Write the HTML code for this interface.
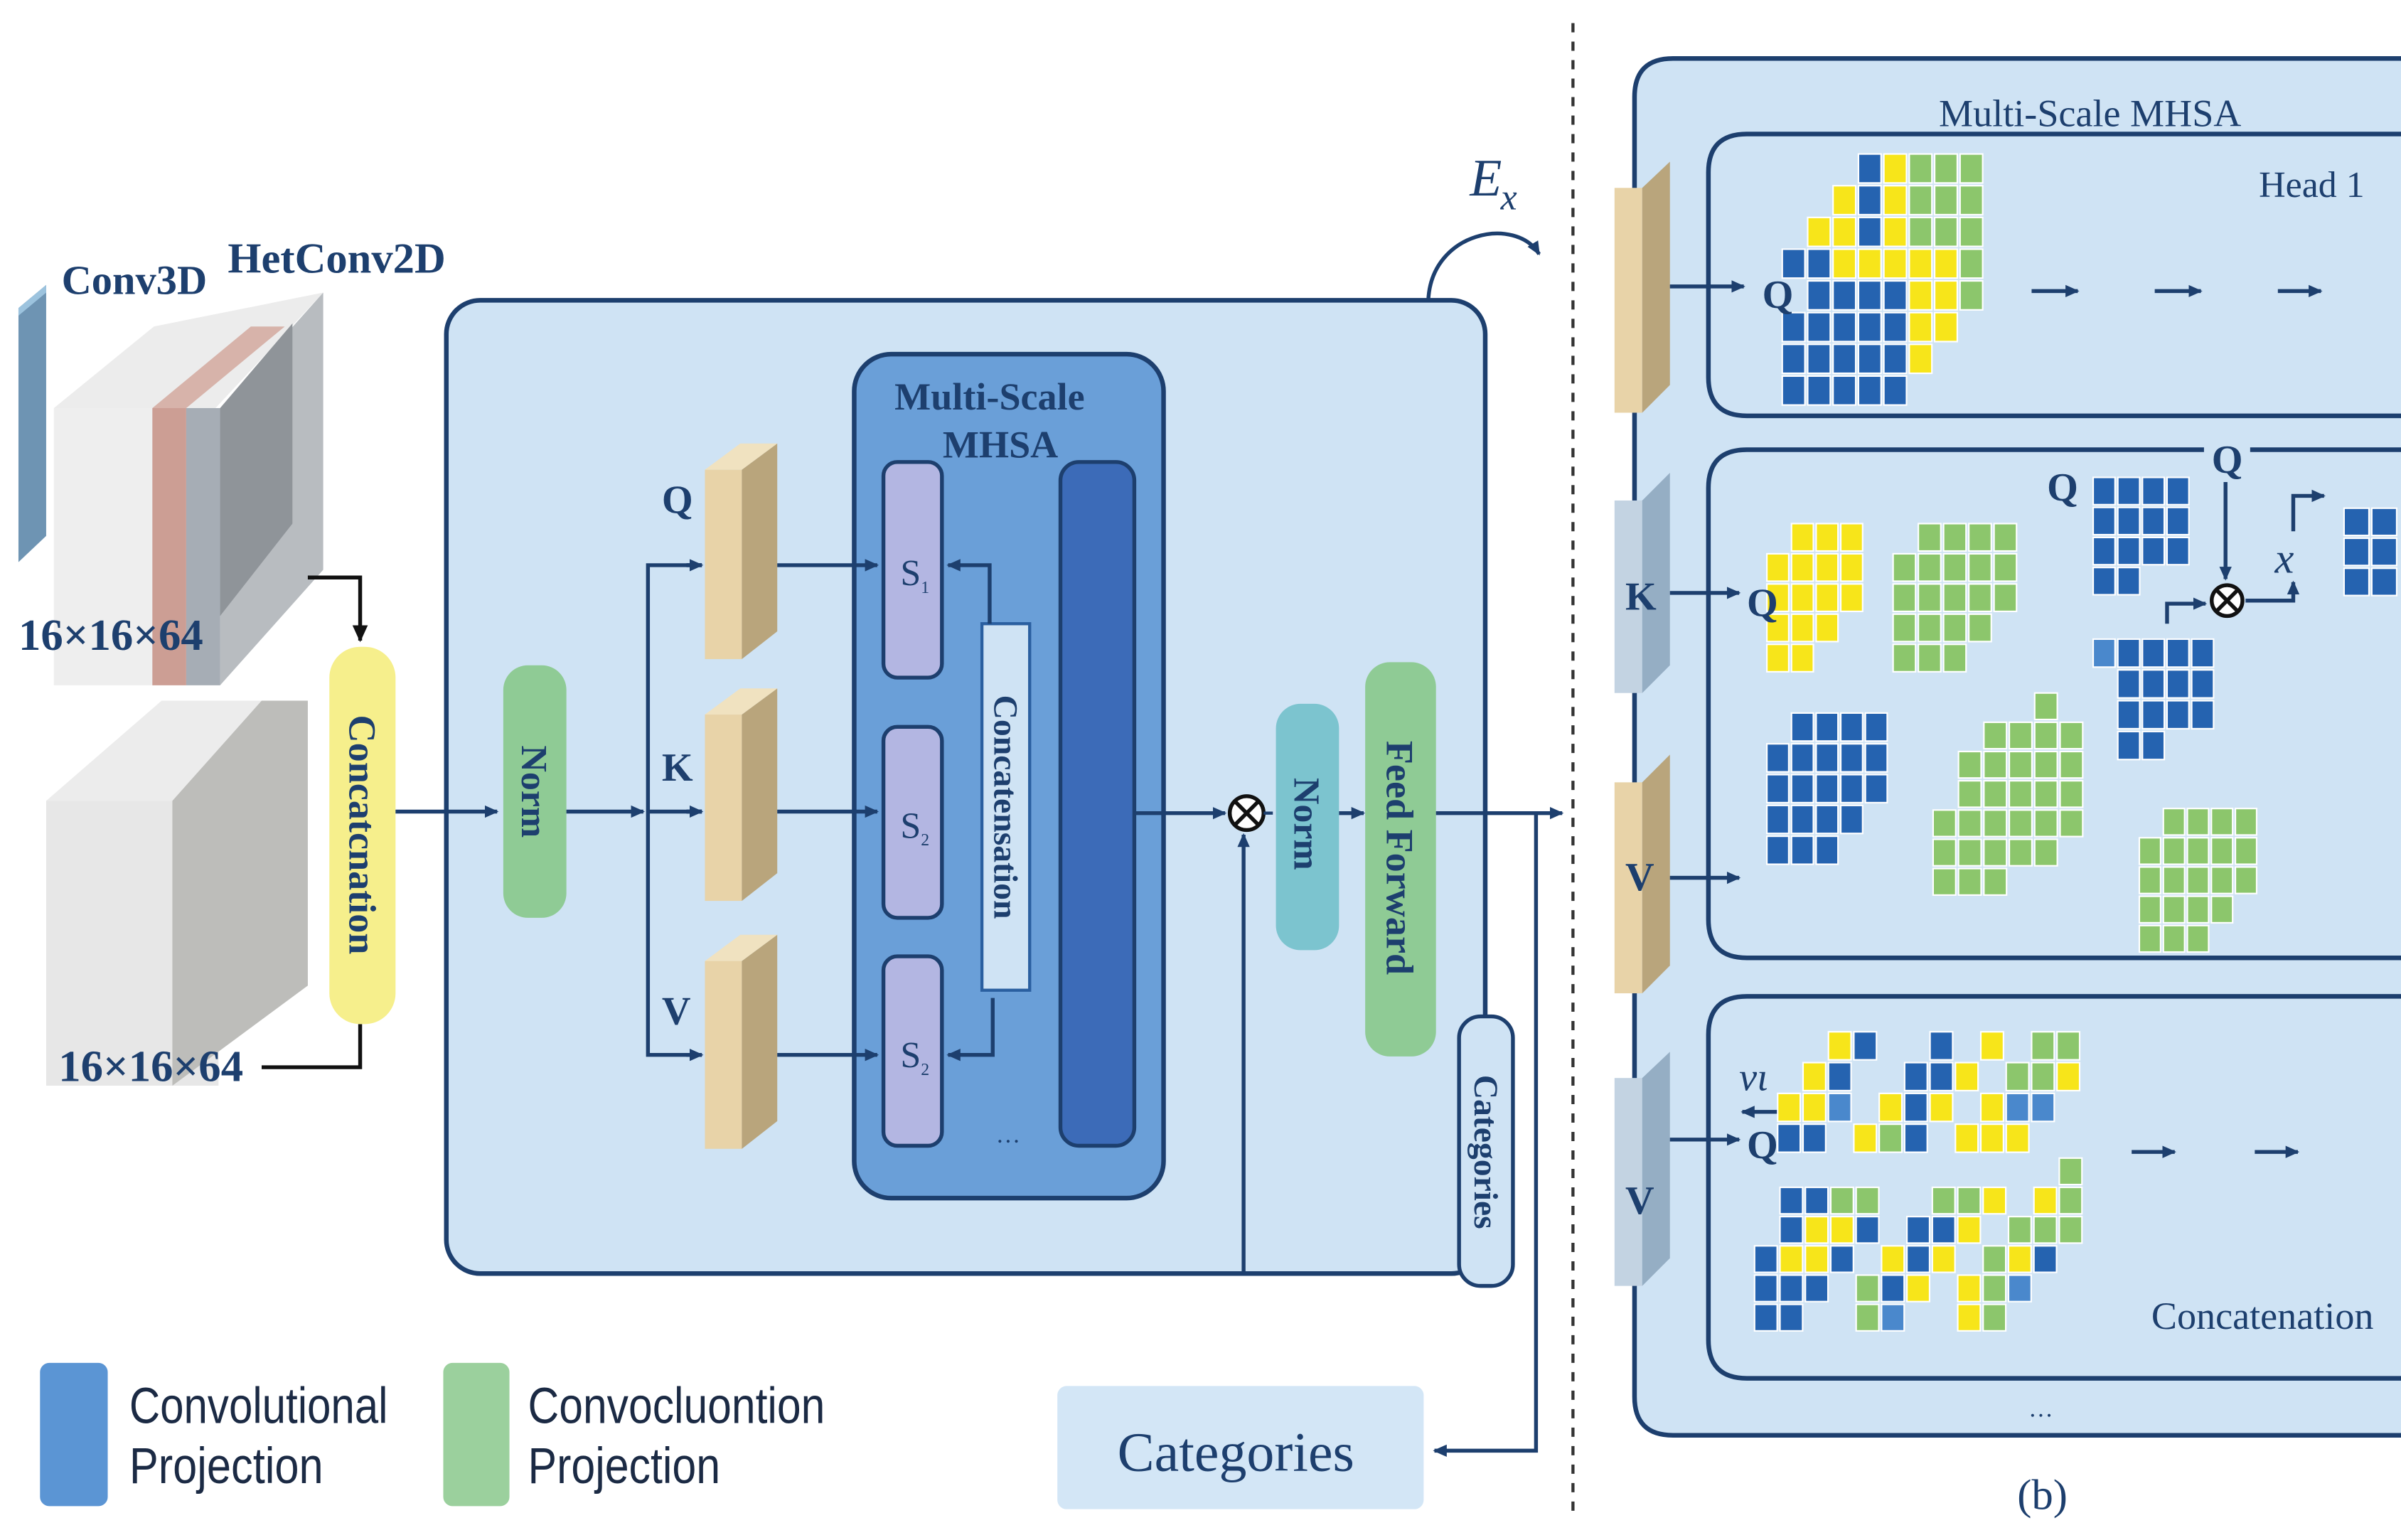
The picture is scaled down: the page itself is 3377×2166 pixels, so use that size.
<!DOCTYPE html>
<html><head><meta charset="utf-8"><style>
html,body{margin:0;padding:0;background:#fff}
svg{display:block}
.s{font-family:"Liberation Serif",serif;fill:#1d3f6e;font-weight:bold}
.n{font-family:"Liberation Serif",serif;fill:#1d3f6e}
.l{font-family:"Liberation Sans",sans-serif;fill:#1b2a44}
</style></head><body>
<svg id="svg" xmlns="http://www.w3.org/2000/svg" width="3377" height="2166" viewBox="0 0 1560 1000" preserveAspectRatio="none">
<defs>
<marker id="a" markerWidth="10" markerHeight="10" refX="8" refY="5" orient="auto" markerUnits="userSpaceOnUse"><path d="M0,1 L9,5 L0,9 Z" fill="#1d3f6e"/></marker>
<marker id="k" markerWidth="12" markerHeight="12" refX="10" refY="6" orient="auto" markerUnits="userSpaceOnUse"><path d="M0,1 L11,6 L0,11 Z" fill="#111"/></marker>
</defs>
<rect width="1560" height="1000" fill="#fff"/>

<!-- main box (drawn first) -->
<rect x="290" y="195" width="675" height="632" rx="22" fill="#cfe3f4" stroke="#1d3f6e" stroke-width="3"/>
<rect x="555" y="230" width="201" height="548" rx="24" fill="#6a9fd8" stroke="#1d3f6e" stroke-width="3"/>

<!-- left cubes -->
<polygon points="12,200 30,185 30,348 12,365" fill="#6e94b3"/>
<polygon points="12,200 30,185 30,190 12,205" fill="#9cc3de"/>
<polygon points="35,265 100,212 210,190 140,265" fill="#ececec"/>
<rect x="35" y="265" width="65" height="180" fill="#eeeeee"/>
<rect x="99" y="265" width="22" height="180" fill="#cc9e94"/>
<polygon points="99,265 163,212 185,212 121,265" fill="#d7b3aa"/>
<rect x="121" y="265" width="22" height="180" fill="#a6adb5"/>
<polygon points="143,265 210,190 210,370 143,445" fill="#b8bcc0"/>
<polygon points="143,265 190,210 190,340 143,400" fill="#8f9499"/>
<polygon points="30,520 105,455 200,455 140,520" fill="#ececec"/>
<rect x="30" y="520" width="112" height="185" fill="#e7e7e7"/>
<polygon points="112,520 170,455 200,455 200,640 112,705" fill="#bdbdba"/>
<text class="s" x="40" y="191" font-size="27" font-weight="normal">Conv3D</text>
<text class="s" x="148" y="177" font-size="28" font-weight="normal">HetConv2D</text>
<text class="s" x="12" y="422" font-size="29">16×16×64</text>
<text class="s" x="38" y="702" font-size="29">16×16×64</text>
<path d="M200,375 H234 V416" stroke="#111" stroke-width="2.5" fill="none" marker-end="url(#k)"/>
<path d="M170,693 H234 V665" stroke="#111" stroke-width="2.5" fill="none"/>
<rect x="214" y="420" width="43" height="245" rx="20" fill="#f6ef8c"/>
<text class="s" transform="translate(227,542) rotate(90)" text-anchor="middle" font-size="25" font-weight="normal">Concatcnation</text>
<line x1="257" y1="527" x2="323" y2="527" stroke="#1d3f6e" stroke-width="2.5" marker-end="url(#a)"/>

<rect x="327" y="432" width="41" height="164" rx="16" fill="#8fcb95"/>
<text class="s" transform="translate(339,514) rotate(90)" text-anchor="middle" font-size="24">Norm</text>
<line x1="368" y1="527" x2="418" y2="527" stroke="#1d3f6e" stroke-width="2.5" marker-end="url(#a)"/>
<path d="M456,367 H421 V685 H456 M421,527 H456" stroke="#1d3f6e" stroke-width="2.5" fill="none"/>
<path d="M446,367 l10,0 M446,527 l10,0 M446,685 l10,0" stroke="#1d3f6e" stroke-width="2.5" marker-end="url(#a)"/>
<line x1="446" y1="367" x2="456" y2="367" stroke="#1d3f6e" stroke-width="2.5" marker-end="url(#a)"/>
<line x1="446" y1="527" x2="456" y2="527" stroke="#1d3f6e" stroke-width="2.5" marker-end="url(#a)"/>
<line x1="446" y1="685" x2="456" y2="685" stroke="#1d3f6e" stroke-width="2.5" marker-end="url(#a)"/>
<text class="s" x="430" y="333" font-size="26" font-weight="normal">Q</text>
<text class="s" x="430" y="507" font-size="26" font-weight="normal">K</text>
<text class="s" x="430" y="665" font-size="26" font-weight="normal">V</text>
<rect x="458" y="305" width="24" height="123" fill="#e8d3a8"/><polygon points="482,305 505,288 505,410 482,428" fill="#b9a57c"/><polygon points="458,305 482,305 505,288 481,288" fill="#f0e2c0"/>
<rect x="458" y="464" width="24" height="121" fill="#e8d3a8"/><polygon points="482,464 505,447 505,567 482,585" fill="#b9a57c"/><polygon points="458,464 482,464 505,447 481,447" fill="#f0e2c0"/>
<rect x="458" y="624" width="24" height="122" fill="#e8d3a8"/><polygon points="482,624 505,607 505,728 482,746" fill="#b9a57c"/><polygon points="458,624 482,624 505,607 481,607" fill="#f0e2c0"/>
<line x1="505" y1="367" x2="570" y2="367" stroke="#1d3f6e" stroke-width="2.5" marker-end="url(#a)"/>
<line x1="505" y1="527" x2="570" y2="527" stroke="#1d3f6e" stroke-width="2.5" marker-end="url(#a)"/>
<line x1="505" y1="685" x2="570" y2="685" stroke="#1d3f6e" stroke-width="2.5" marker-end="url(#a)"/>

<text class="s" x="643" y="266" text-anchor="middle" font-size="25" font-weight="normal">Multi-Scale</text>
<text class="s" x="650" y="297" text-anchor="middle" font-size="25" font-weight="normal">MHSA</text>
<rect x="574" y="300" width="38" height="140" rx="9" fill="#b3b6e2" stroke="#1d3f6e" stroke-width="2.5"/>
<rect x="574" y="472" width="38" height="124" rx="9" fill="#b3b6e2" stroke="#1d3f6e" stroke-width="2.5"/>
<rect x="574" y="621" width="38" height="123" rx="9" fill="#b3b6e2" stroke="#1d3f6e" stroke-width="2.5"/>
<text class="n" x="585" y="380" font-size="24">S<tspan font-size="11" dy="5">1</tspan></text>
<text class="n" x="585" y="544" font-size="24">S<tspan font-size="11" dy="5">2</tspan></text>
<text class="n" x="585" y="693" font-size="24">S<tspan font-size="11" dy="5">2</tspan></text>
<text class="n" x="655" y="742" text-anchor="middle" font-size="16">…</text>
<rect x="638" y="405" width="31" height="238" fill="#cfe3f4" stroke="#2a5fa0" stroke-width="2"/>
<text class="s" transform="translate(646,524) rotate(90)" text-anchor="middle" font-size="22">Concatensation</text>
<path d="M643,405 V367 H616" stroke="#1d3f6e" stroke-width="2.5" fill="none" marker-end="url(#a)"/>
<path d="M645,648 V685 H616" stroke="#1d3f6e" stroke-width="2.5" fill="none" marker-end="url(#a)"/>
<rect x="689" y="300" width="48" height="444" rx="12" fill="#3c6bb8" stroke="#1d3f6e" stroke-width="2.5"/>
<line x1="737" y1="528" x2="796" y2="528" stroke="#1d3f6e" stroke-width="2.5" marker-end="url(#a)"/>
<circle cx="810" cy="528" r="11" fill="#fff" stroke="#111" stroke-width="2.5"/>
<path d="M802,520 L818,536 M818,520 L802,536" stroke="#111" stroke-width="2.5"/>
<path d="M808,827 V542" stroke="#1d3f6e" stroke-width="2.5" marker-end="url(#a)"/>
<line x1="821" y1="528" x2="827" y2="528" stroke="#1d3f6e" stroke-width="2"/>
<rect x="829" y="457" width="41" height="160" rx="16" fill="#7cc4cf"/>
<text class="s" transform="translate(841,535) rotate(90)" text-anchor="middle" font-size="24">Norm</text>
<line x1="870" y1="528" x2="886" y2="528" stroke="#1d3f6e" stroke-width="2.5" marker-end="url(#a)"/>
<rect x="887" y="430" width="46" height="256" rx="16" fill="#8fcb95"/>
<text class="s" transform="translate(901,557) rotate(90)" text-anchor="middle" font-size="25">Feed Forward</text>
<line x1="933" y1="528" x2="1015" y2="528" stroke="#1d3f6e" stroke-width="2.5" marker-end="url(#a)"/>
<path d="M998,528 V942 H932" stroke="#1d3f6e" stroke-width="2.5" fill="none" marker-end="url(#a)"/>
<rect x="948" y="660" width="35" height="175" rx="14" fill="#cfe3f4" stroke="#1d3f6e" stroke-width="2.5"/>
<text class="s" transform="translate(958,748) rotate(90)" text-anchor="middle" font-size="22">Categories</text>
<rect x="687" y="900" width="238" height="80" rx="6" fill="#d3e6f6"/>
<text class="n" x="803" y="955" text-anchor="middle" font-size="36">Categories</text>
<text class="n" x="955" y="127" font-size="34" font-style="italic">E</text>
<text class="n" x="975" y="136" font-size="24" font-style="italic">x</text>
<path d="M928,195 C930,150 985,140 1000,165" stroke="#1d3f6e" stroke-width="2.5" fill="none" marker-end="url(#a)"/>

<line x1="1022" y1="15" x2="1022" y2="985" stroke="#333" stroke-width="2" stroke-dasharray="6,6"/>

<!-- legend -->
<rect x="26" y="885" width="44" height="93" rx="6" fill="#5b95d4"/>
<rect x="288" y="885" width="43" height="93" rx="6" fill="#9bd09d"/>
<text class="l" x="84" y="924" font-size="33" textLength="168" lengthAdjust="spacingAndGlyphs">Convolutional</text>
<text class="l" x="84" y="963" font-size="33" textLength="126" lengthAdjust="spacingAndGlyphs">Projection</text>
<text class="l" x="343" y="924" font-size="33" textLength="193" lengthAdjust="spacingAndGlyphs">Convocluontion</text>
<text class="l" x="343" y="963" font-size="33" textLength="125" lengthAdjust="spacingAndGlyphs">Projection</text>

<!-- right panel -->
<path d="M1560,38 H1087 Q1062,38 1062,63 V907 Q1062,932 1087,932 H1560" fill="#cfe3f4" stroke="#1d3f6e" stroke-width="3"/>
<text class="n" x="1358" y="82" text-anchor="middle" font-size="25">Multi-Scale MHSA</text>
<path d="M1560,87 H1135 Q1110,87 1110,112 V245 Q1110,270 1135,270 H1560" fill="none" stroke="#1d3f6e" stroke-width="3"/>
<path d="M1560,292 H1462 M1432,292 H1135 Q1110,292 1110,317 V597 Q1110,622 1135,622 H1560" fill="none" stroke="#1d3f6e" stroke-width="3"/>
<path d="M1560,647 H1135 Q1110,647 1110,672 V870 Q1110,895 1135,895 H1560" fill="none" stroke="#1d3f6e" stroke-width="3"/>
<text class="n" x="1502" y="128" text-anchor="middle" font-size="24">Head 1</text>
<text class="n" x="1326" y="920" text-anchor="middle" font-size="16">…</text>
<text class="n" x="1327" y="980" text-anchor="middle" font-size="28">(b)</text>
<text class="n" x="1470" y="863" text-anchor="middle" font-size="25">Concatenation</text>

<rect x="1049" y="122" width="18" height="146" fill="#e8d3a8"/><polygon points="1067,122 1085,105 1085,250 1067,268" fill="#b9a57c"/>
<rect x="1049" y="325" width="18" height="125" fill="#c3d3e2"/><polygon points="1067,325 1085,307 1085,432 1067,450" fill="#95aec4"/>
<text class="s" x="1056" y="396" font-size="26" font-weight="normal">K</text>
<rect x="1049" y="508" width="18" height="137" fill="#e8d3a8"/><polygon points="1067,508 1085,490 1085,627 1067,645" fill="#b9a57c"/>
<text class="s" x="1056" y="578" font-size="26" font-weight="normal">V</text>
<rect x="1049" y="700" width="18" height="135" fill="#c3d3e2"/><polygon points="1067,700 1085,683 1085,817 1067,835" fill="#95aec4"/>
<text class="s" x="1056" y="788" font-size="26" font-weight="normal">V</text>

<g stroke="#1d3f6e" stroke-width="2.5" fill="none">
<line x1="1085" y1="186" x2="1133" y2="186" marker-end="url(#a)"/>
<line x1="1085" y1="385" x2="1130" y2="385" marker-end="url(#a)"/>
<line x1="1085" y1="570" x2="1130" y2="570" marker-end="url(#a)"/>
<line x1="1085" y1="740" x2="1130" y2="740" marker-end="url(#a)"/>
<line x1="1320" y1="189" x2="1350" y2="189" marker-end="url(#a)"/>
<line x1="1400" y1="189" x2="1430" y2="189" marker-end="url(#a)"/>
<line x1="1480" y1="189" x2="1508" y2="189" marker-end="url(#a)"/>
<line x1="1385" y1="748" x2="1413" y2="748" marker-end="url(#a)"/>
<line x1="1465" y1="748" x2="1493" y2="748" marker-end="url(#a)"/>
<line x1="1158" y1="722" x2="1132" y2="722" marker-end="url(#a)"/>
<line x1="1446" y1="313" x2="1446" y2="376" marker-end="url(#a)"/>
<path d="M1408,405 V392 H1433" marker-end="url(#a)"/>
<path d="M1459,390 H1490 V378" marker-end="url(#a)"/>
<path d="M1490,345 V322 H1510" marker-end="url(#a)"/>
</g>
<circle cx="1447" cy="390" r="10" fill="#fff" stroke="#111" stroke-width="2.5"/>
<path d="M1440,383 L1454,397 M1454,383 L1440,397" stroke="#111" stroke-width="2.5"/>
<g id="grids"></g>
<text class="s" x="1145" y="200" font-size="26" font-weight="normal">Q</text>
<text class="s" x="1135" y="400" font-size="26" font-weight="normal">Q</text>
<text class="s" x="1330" y="325" font-size="26" font-weight="normal">Q</text>
<text class="s" x="1437" y="307" font-size="26" font-weight="normal">Q</text>
<text class="s" x="1135" y="752" font-size="26" font-weight="normal">Q</text>
<text class="n" x="1478" y="372" font-size="28" font-style="italic">x</text>
<text class="n" x="1130" y="708" font-size="26" font-style="italic">vι</text>
</svg>
<script>
var C={B:"#2563b0",Y:"#f7e51a",G:"#8cc66c",L:"#4a88cc"};
function grid(x0,y0,px,py,rows){var s="";rows.forEach(function(r,i){for(var j=0;j<r.length;j++){var c=C[r[j]];if(c)s+='<rect x="'+(x0+j*px)+'" y="'+(y0+i*py)+'" width="'+(px-1.8)+'" height="'+(py-1.8)+'" fill="'+c+'" stroke="#fff" stroke-width="1"/>';}});return s;}
var g="";
g+=grid(1158,100,16.5,20.6,["...BYGGG","..YBYGGG",".YYBYGGG","BBYYYYYG",".BBBBYYG","BBBBBYY.","BBBBBY..","BBBBB..."]);
g+=grid(1148,340,16,19.6,[".YYY","YYYY","YYYY","YYY.","YY.."]);
g+=grid(1230,340,16.4,19.6,[".GGGG","GGGGG","GGGGG","GGGG.","GGG.."]);
g+=grid(1360,310,16,19.5,["BBBB","BBBB","BBBB","BB.."]);
g+=grid(1360,415,16,20,["LBBBB",".BBBB",".BBBB",".BB.."]);
g+=grid(1148,463,16,20,[".BBBB","BBBBB","BBBBB","BBBB.","BBB.."]);
g+=grid(1256,450,16.5,19,["....G.","..GGGG",".GGGGG",".GGGGG","GGGGGG","GGGGG.","GGG..."]);
g+=grid(1390,525,15.6,19,[".GGGG","GGGGG","GGGGG","GGGG.","GGG.."]);
g+=grid(1523,330,18,19.5,["BB","BB","BB"]);
g+=grid(1155,670,16.5,20,["..YB..B.Y.GG.",".YB..BBY.GGY.","YYL.YBY.YLL..","BB.YGB.YYY..."]);
g+=grid(1140,752,16.5,19,["............G",".BBGG..GGY.YG",".BYYB.BBY.GGG","BYYB.YBY.GYB.","BBB.GBY.YGL..","BB..GL..YG..."]);
document.getElementById("grids").innerHTML=g;
</script>
</body></html>
